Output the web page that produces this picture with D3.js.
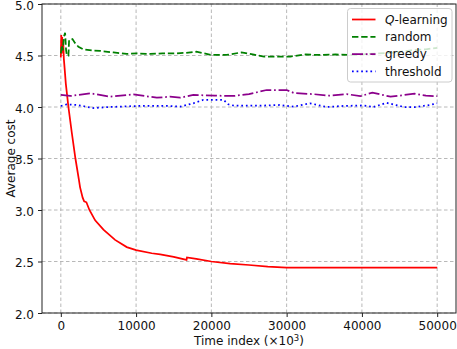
<!DOCTYPE html>
<html>
<head>
<meta charset="utf-8">
<script src="https://cdn.jsdelivr.net/npm/d3@7"></script>
<style>
    body { margin: 0; background: #fff; }
    text { font-family: 'DejaVu Sans', sans-serif; }
</style>
</head>
<body>
<div id="chart"></div>
<script>
// time index (x10^3) and average cost per policy
const qT = [0, 60, 120, 180, 250, 320, 400, 500, 660, 1010, 1460, 1940, 2390, 2560, 2900, 3100, 3400, 3800, 4560, 5660, 7210, 8760, 10000, 12080, 13200, 15000, 16700, 16760, 18000, 20000, 22500, 25000, 27500, 30000, 35000, 40000, 45000, 50000];
const qV = [4.48, 4.70, 4.52, 4.68, 4.55, 4.63, 4.47, 4.38, 4.23, 4.0, 3.75, 3.5, 3.30, 3.22, 3.12, 3.085, 3.075, 3.0, 2.90, 2.81, 2.71, 2.64, 2.61, 2.58, 2.57, 2.545, 2.515, 2.54, 2.525, 2.50, 2.48, 2.466, 2.45, 2.44, 2.44, 2.44, 2.44, 2.44];

const randT = [0, 150, 260, 400, 570, 700, 800, 1010, 1100, 1240, 1550, 1900, 2340, 3000, 4330, 5220, 6990, 8760, 10090, 11860, 13500, 15000, 16500, 18000, 20000, 22000, 24000, 25500, 27000, 29000, 30500, 32500, 34500, 36500, 38500, 40000, 42000, 44500, 46500, 48500, 50000];
const randV = [4.52, 4.60, 4.55, 4.68, 4.72, 4.55, 4.50, 4.50, 4.65, 4.65, 4.66, 4.62, 4.585, 4.56, 4.547, 4.545, 4.53, 4.515, 4.52, 4.515, 4.52, 4.52, 4.525, 4.537, 4.505, 4.505, 4.53, 4.51, 4.49, 4.49, 4.49, 4.51, 4.505, 4.51, 4.505, 4.51, 4.52, 4.53, 4.55, 4.56, 4.575];

const greedyT = [0, 1240, 3890, 6550, 9640, 12750, 14500, 15840, 17600, 20500, 22920, 25000, 27350, 30000, 31000, 33550, 35500, 38000, 39800, 41400, 43800, 45500, 47000, 48500, 50000];
const greedyV = [4.117, 4.107, 4.133, 4.10, 4.123, 4.09, 4.10, 4.09, 4.117, 4.11, 4.107, 4.125, 4.165, 4.165, 4.135, 4.125, 4.11, 4.125, 4.105, 4.14, 4.10, 4.115, 4.13, 4.11, 4.105];

const threshT = [0, 800, 2120, 4330, 6550, 10090, 14500, 15840, 17600, 18940, 21590, 22260, 23000, 26470, 29100, 30900, 33100, 35300, 37500, 40200, 41500, 43300, 45600, 47300, 49000, 50000];
const threshV = [4.01, 4.026, 4.02, 3.99, 4.0, 4.01, 4.01, 4.003, 4.036, 4.07, 4.07, 4.026, 4.013, 4.013, 4.02, 4.003, 4.036, 4.0, 4.01, 4.015, 4.0, 4.04, 4.0, 4.0, 4.02, 4.035];

const xTicks = [0, 10000, 20000, 30000, 40000, 50000];
const yTicks = [2.0, 2.5, 3.0, 3.5, 4.0, 4.5, 5.0];

const series = [
    { name: 'Q-learning', t: qT, v: qV, color: '#ff0000', dash: null },
    { name: 'random', t: randT, v: randV, color: '#008000', dash: '6.4,2.8' },
    { name: 'greedy', t: greedyT, v: greedyV, color: '#8b008b', dash: '11,2.8,1.7,2.8' },
    { name: 'threshold', t: threshT, v: threshV, color: '#0000ff', dash: '1.7,2.9' }
];

const W = 457, H = 349;
const margin = { left: 42, right: 1, top: 4, bottom: 36 };
const FS = 12;

const svg = d3.select('#chart').append('svg').attr('width', W).attr('height', H);

const x = d3.scaleLinear().domain([-2500, 52500]).range([margin.left, W - margin.right]);
const y = d3.scaleLinear().domain([2, 5]).range([H - margin.bottom, margin.top]);

// grid
svg.append('g')
    .selectAll('line')
    .data(xTicks)
    .enter()
    .append('line')
    .attr('x1', (d) => x(d))
    .attr('x2', (d) => x(d))
    .attr('y1', y(2))
    .attr('y2', y(5))
    .attr('stroke', '#b0b0b0')
    .attr('stroke-width', 0.9)
    .attr('stroke-dasharray', '3.5,2.5');

svg.append('g')
    .selectAll('line')
    .data(yTicks)
    .enter()
    .append('line')
    .attr('x1', x(-2500))
    .attr('x2', x(52500))
    .attr('y1', (d) => y(d))
    .attr('y2', (d) => y(d))
    .attr('stroke', '#b0b0b0')
    .attr('stroke-width', 0.9)
    .attr('stroke-dasharray', '3.5,2.5');

// lines
const line = d3
    .line()
    .x((d) => x(d[0]))
    .y((d) => y(d[1]));

series.forEach((s) => {
    const pts = s.t.map((t, i) => [t, s.v[i]]);
    svg.append('path')
        .datum(pts)
        .attr('fill', 'none')
        .attr('stroke', s.color)
        .attr('stroke-width', 1.75)
        .attr('stroke-dasharray', s.dash)
        .attr('d', line);
});

// axes
const xAxis = d3.axisBottom(x).tickValues(xTicks).tickSize(4).tickPadding(4).tickFormat(d3.format('d'));
const yAxis = d3.axisLeft(y).tickValues(yTicks).tickSize(4).tickPadding(4).tickFormat(d3.format('.1f'));

const gx = svg.append('g').attr('transform', `translate(0, ${y(2)})`).call(xAxis);
const gy = svg.append('g').attr('transform', `translate(${x(-2500)}, 0)`).call(yAxis);

[gx, gy].forEach((g) => {
    g.select('.domain').remove();
    g.selectAll('line').attr('stroke', '#222');
    g.selectAll('text')
        .attr('fill', '#111')
        .style('font-size', FS + 'px')
        .style('font-family', 'DejaVu Sans');
});
gy.selectAll('text').attr('dy', '0.45em');

// frame
svg.append('rect')
    .attr('x', x(-2500))
    .attr('y', y(5))
    .attr('width', x(52500) - x(-2500))
    .attr('height', y(2) - y(5))
    .attr('fill', 'none')
    .attr('stroke', '#222')
    .attr('stroke-width', 1);

// axis labels
const xl = svg.append('text')
    .attr('x', (x(-2500) + x(52500)) / 2)
    .attr('y', 345)
    .attr('text-anchor', 'middle')
    .style('font-size', FS + 'px')
    .attr('fill', '#111');
xl.append('tspan').text('Time index (×10');
xl.append('tspan').text('3').attr('dy', -4.5).style('font-size', '8.5px');
xl.append('tspan').text(')').attr('dy', 4.5);

svg.append('text')
    .attr('transform', `translate(15, ${(y(2) + y(5)) / 2}) rotate(-90)`)
    .attr('text-anchor', 'middle')
    .style('font-size', FS + 'px')
    .attr('fill', '#111')
    .text('Average cost');

// legend
const legend = svg.append('g');
legend.append('rect')
    .attr('x', 347.5)
    .attr('y', 8.5)
    .attr('width', 104.5)
    .attr('height', 73.5)
    .attr('rx', 3)
    .attr('fill', 'rgba(255,255,255,0.8)')
    .attr('stroke', '#cccccc')
    .attr('stroke-width', 1);

series.forEach((s, i) => {
    const ly = 19.5 + i * 17.3;
    legend.append('line')
        .attr('x1', 352)
        .attr('x2', 375.5)
        .attr('y1', ly)
        .attr('y2', ly)
        .attr('stroke', s.color)
        .attr('stroke-width', 1.75)
        .attr('stroke-dasharray', s.dash);
    const t = legend.append('text')
        .attr('x', 385)
        .attr('y', ly + 4.3)
        .style('font-size', FS + 'px')
        .attr('fill', '#111');
    if (s.name === 'Q-learning') {
        t.append('tspan').text('Q').style('font-style', 'italic');
        t.append('tspan').text('-learning');
    } else {
        t.text(s.name);
    }
});
</script>
</body>
</html>
